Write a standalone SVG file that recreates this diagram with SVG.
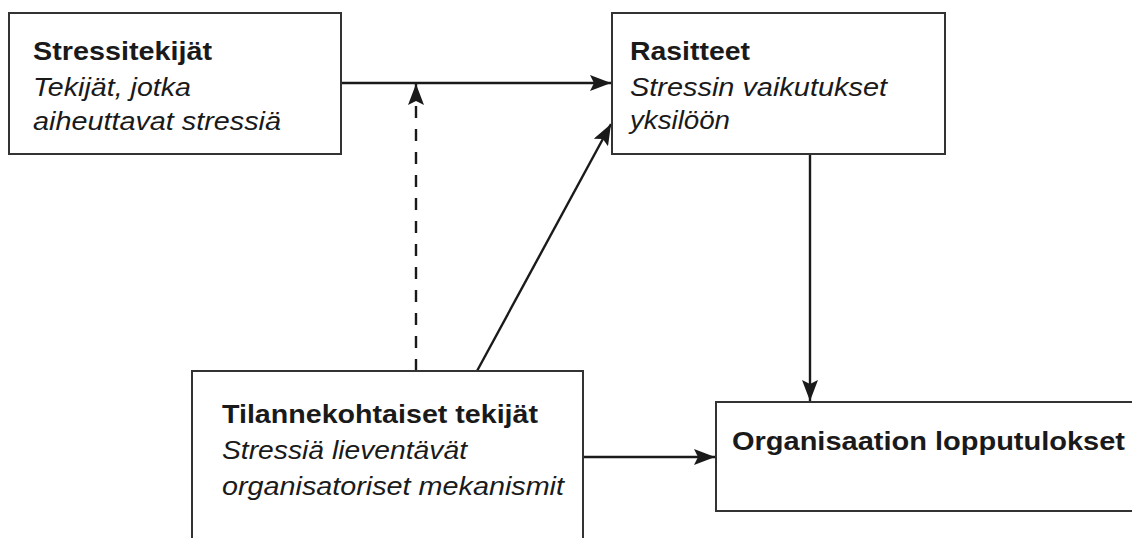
<svg xmlns="http://www.w3.org/2000/svg" width="1132" height="538" viewBox="0 0 1132 538">
<defs>
<style>
.box{fill:#fff;stroke:#333;stroke-width:2}
.t{font-family:"Liberation Sans",Arial,sans-serif;font-size:25px;fill:#1a1a1a}
.b{font-weight:bold}
.i{font-style:italic}
.c{stroke:#1a1a1a;stroke-width:2.4;fill:none}
.d{stroke-dasharray:12 11}
</style>
<marker id="ah" viewBox="0 0 21 16" refX="21" refY="8" markerWidth="21" markerHeight="16" markerUnits="userSpaceOnUse" orient="auto">
<path d="M0,0 L21,8 L0,16 L4,8 Z" fill="#1a1a1a"/>
</marker>
</defs>
<rect width="1132" height="538" fill="#fff"/>
<g id="connectors">
<line class="c" x1="341" y1="83" x2="611" y2="83" marker-end="url(#ah)"/>
<line class="c d" x1="416" y1="371" x2="416" y2="84" marker-end="url(#ah)"/>
<line class="c" x1="477" y1="371" x2="611" y2="124" marker-end="url(#ah)"/>
<line class="c" x1="810" y1="154" x2="810" y2="401" marker-end="url(#ah)"/>
<line class="c" x1="583" y1="457" x2="715" y2="457" marker-end="url(#ah)"/>
</g>
<g id="stressitekijat">
<rect class="box" x="9" y="13" width="332" height="141"/>
<text class="t b" x="33" y="60" textLength="179" lengthAdjust="spacingAndGlyphs">Stressitekijät</text>
<text class="t i" x="33" y="96" textLength="158" lengthAdjust="spacingAndGlyphs">Tekijät, jotka</text>
<text class="t i" x="33" y="130" textLength="248" lengthAdjust="spacingAndGlyphs">aiheuttavat stressiä</text>
</g>
<g id="rasitteet">
<rect class="box" x="612" y="13" width="333" height="141"/>
<text class="t b" x="630" y="60" textLength="120" lengthAdjust="spacingAndGlyphs">Rasitteet</text>
<text class="t i" x="630" y="96" textLength="257" lengthAdjust="spacingAndGlyphs">Stressin vaikutukset</text>
<text class="t i" x="630" y="129" textLength="100" lengthAdjust="spacingAndGlyphs">yksilöön</text>
</g>
<g id="tilannekohtaiset">
<rect class="box" x="192" y="371" width="391" height="200"/>
<text class="t b" x="222" y="423" textLength="316" lengthAdjust="spacingAndGlyphs">Tilannekohtaiset tekijät</text>
<text class="t i" x="222" y="459" textLength="245" lengthAdjust="spacingAndGlyphs">Stressiä lieventävät</text>
<text class="t i" x="222" y="495" textLength="342" lengthAdjust="spacingAndGlyphs">organisatoriset mekanismit</text>
</g>
<g id="organisaatio">
<rect class="box" x="716" y="402" width="430" height="109"/>
<text class="t b" x="732" y="450" textLength="393" lengthAdjust="spacingAndGlyphs">Organisaation lopputulokset</text>
</g>
</svg>
